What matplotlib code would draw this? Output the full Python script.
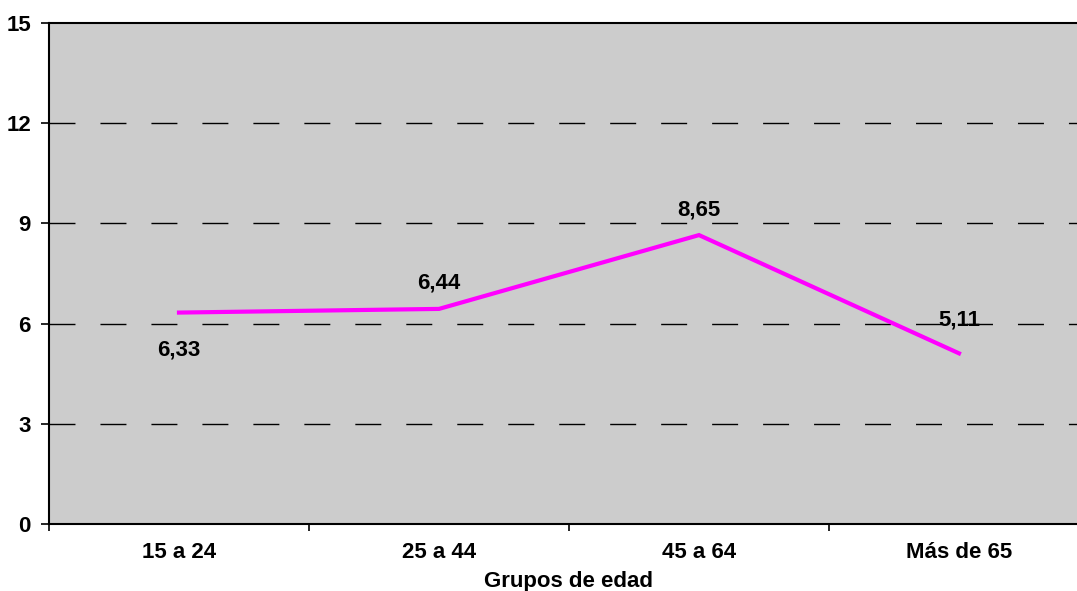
import matplotlib
matplotlib.use("Agg")
import matplotlib.pyplot as plt
from matplotlib.ticker import FixedLocator, NullFormatter, FixedFormatter

categories = ["15 a 24", "25 a 44", "45 a 64", "Más de 65"]
values = [6.33, 6.44, 8.65, 5.11]
labels = ["6,33", "6,44", "8,65", "5,11"]
yticks = [0, 3, 6, 9, 12, 15]
label_offsets_pt = [-27, 19, 18, 24]

plt.rcParams['font.family'] = ['Liberation Sans', 'DejaVu Sans']

fig = plt.figure(figsize=(10.77, 5.91), dpi=100)
ax = fig.add_axes([49/1077, 1-524/591, (1089-49)/1077, (524-23)/591])
ax.set_facecolor("#CCCCCC")

x = list(range(len(categories)))
ax.plot(x, values, color="#FF00FF", lw=3, solid_joinstyle="miter", zorder=3)
for xi, v, lab, off in zip(x, values, labels, label_offsets_pt):
    ax.annotate(lab, (xi, v), xytext=(0, off), textcoords="offset points",
                ha="center", va="center", fontsize=16, fontweight="bold", zorder=4)

ax.set_xlim(-0.5, len(categories) - 0.5)
ax.set_ylim(0, 15)
ax.set_yticks(yticks)
ax.set_yticklabels([str(t) for t in yticks], fontsize=16, fontweight="bold")
for t in yticks[1:-1]:
    ax.axhline(t, color="black", lw=1, ls=(0, (18.7, 18)), zorder=1)

ax.xaxis.set_major_locator(FixedLocator([i - 0.5 for i in range(len(categories) + 1)]))
ax.xaxis.set_major_formatter(NullFormatter())
ax.xaxis.set_minor_locator(FixedLocator(x))
ax.xaxis.set_minor_formatter(FixedFormatter(categories))
ax.tick_params(axis="x", which="minor", length=0, pad=13, labelsize=16)
ax.tick_params(axis="x", which="major", length=5, width=1.2, direction="out")
ax.tick_params(axis="y", length=6, width=1.2, direction="out", pad=7)
for lab in ax.xaxis.get_minorticklabels():
    lab.set_fontweight("bold")

for s in ax.spines.values():
    s.set_linewidth(1.5)

ax.set_xlabel("Grupos de edad", fontsize=16, fontweight="bold", labelpad=6)

fig.savefig("out.png", dpi=100)
